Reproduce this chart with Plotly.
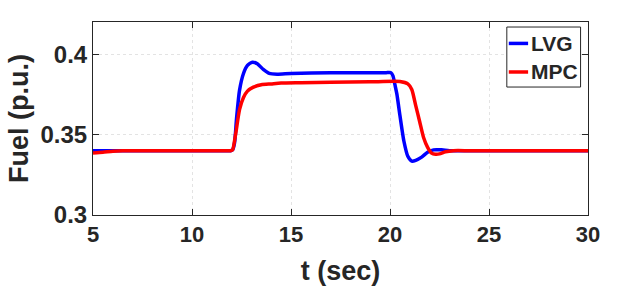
import plotly.graph_objects as go

t_lvg = [5, 6, 8, 10, 11, 11.6, 11.95, 12.05, 12.15, 12.25, 12.4, 12.6, 12.8, 13.05, 13.3, 13.6, 13.9, 14.3, 15, 17, 19,
         19.8, 20.05, 20.15, 20.25, 20.35, 20.5, 20.7, 20.9, 21.1, 21.3, 21.6, 21.9, 22.2, 22.6, 23, 24, 26, 28, 30]
lvg = [0.34, 0.34, 0.34, 0.34, 0.34, 0.34, 0.34, 0.3405, 0.345, 0.36, 0.3775, 0.388, 0.393, 0.395, 0.394, 0.3905,
       0.388, 0.3875, 0.388, 0.3885, 0.3885, 0.3885, 0.3885, 0.3865, 0.381, 0.375, 0.362, 0.346, 0.3365, 0.3335,
       0.334, 0.336, 0.339, 0.3405, 0.3405, 0.340, 0.34, 0.34, 0.34, 0.34]

t_mpc = [5, 5.5, 6, 6.5, 8, 10, 11, 11.6, 11.95, 12.05, 12.2, 12.4, 12.6, 12.8, 13.1, 13.5, 14, 14.5, 15.5, 17, 19,
         20.5, 20.9, 21.1, 21.3, 21.5, 21.7, 21.9, 22.1, 22.3, 22.5, 22.8, 23.2, 24, 26, 30]
mpc = [0.3385, 0.339, 0.3397, 0.34, 0.34, 0.34, 0.34, 0.34, 0.34, 0.3405, 0.350, 0.3655, 0.373, 0.377, 0.3795,
       0.381, 0.3815, 0.382, 0.3822, 0.3825, 0.3828, 0.383, 0.3815, 0.378, 0.368, 0.358, 0.348, 0.342, 0.3385,
       0.3378, 0.338, 0.3393, 0.34, 0.34, 0.34, 0.34]

series_names = ["LVG", "MPC"]
series_colors = ["#0000FF", "#FF0000"]

x_ticks = [5, 10, 15, 20, 25, 30]
y_ticks = [0.3, 0.35, 0.4]
y_tick_text = ["0.3", "0.35", "0.4"]

font_color = "#262626"
fam = "Liberation Sans, Arial, sans-serif"

fig = go.Figure()
for tt, vv, nm, col in [(t_lvg, lvg, series_names[0], series_colors[0]),
                        (t_mpc, mpc, series_names[1], series_colors[1])]:
    fig.add_trace(go.Scatter(x=tt, y=vv, mode="lines", name=nm, showlegend=False,
                             line=dict(color=col, width=3.5, shape="spline", smoothing=0.6)))

axis_common = dict(showline=True, linecolor=font_color, linewidth=1, mirror="ticks",
                   ticks="inside", ticklen=6, tickcolor=font_color,
                   showgrid=True, gridcolor="#e3e3e3", griddash="dot", gridwidth=1,
                   zeroline=False)

fig.update_xaxes(range=[5, 30], tickvals=x_ticks,
                 tickfont=dict(family=fam, size=22, color=font_color, weight="bold"),
                 title=dict(text="t (sec)", font=dict(family=fam, size=27, color=font_color, weight="bold"),
                            standoff=14),
                 **axis_common)
fig.update_yaxes(range=[0.3, 0.42], tickvals=y_ticks, ticktext=y_tick_text,
                 tickfont=dict(family=fam, size=24, color=font_color, weight="bold"),
                 title=dict(text="Fuel (p.u.)", font=dict(family=fam, size=27, color=font_color, weight="bold"),
                            standoff=4),
                 **axis_common)

# legend box drawn in axis-domain coordinates
fig.add_shape(type="rect", xref="x domain", yref="y domain", x0=0.836, x1=0.985, y0=0.663, y1=0.974,
              line=dict(color=font_color, width=1), fillcolor="white", layer="above")
legend_rows = [0.889, 0.741]
for nm, col, yy in zip(series_names, series_colors, legend_rows):
    fig.add_shape(type="line", xref="x domain", yref="y domain", x0=0.840, x1=0.879, y0=yy, y1=yy,
                  line=dict(color=col, width=3.5), layer="above")
    fig.add_annotation(xref="x domain", yref="y domain", x=0.881, y=yy, text=nm, showarrow=False,
                       xanchor="left", yanchor="middle",
                       font=dict(family=fam, size=21, color=font_color, weight="bold"))

fig.update_layout(
    width=618, height=293,
    margin=dict(l=93, r=30, t=22, b=78),
    paper_bgcolor="white", plot_bgcolor="white",
    showlegend=False,
)

fig.write_html("out.html")
